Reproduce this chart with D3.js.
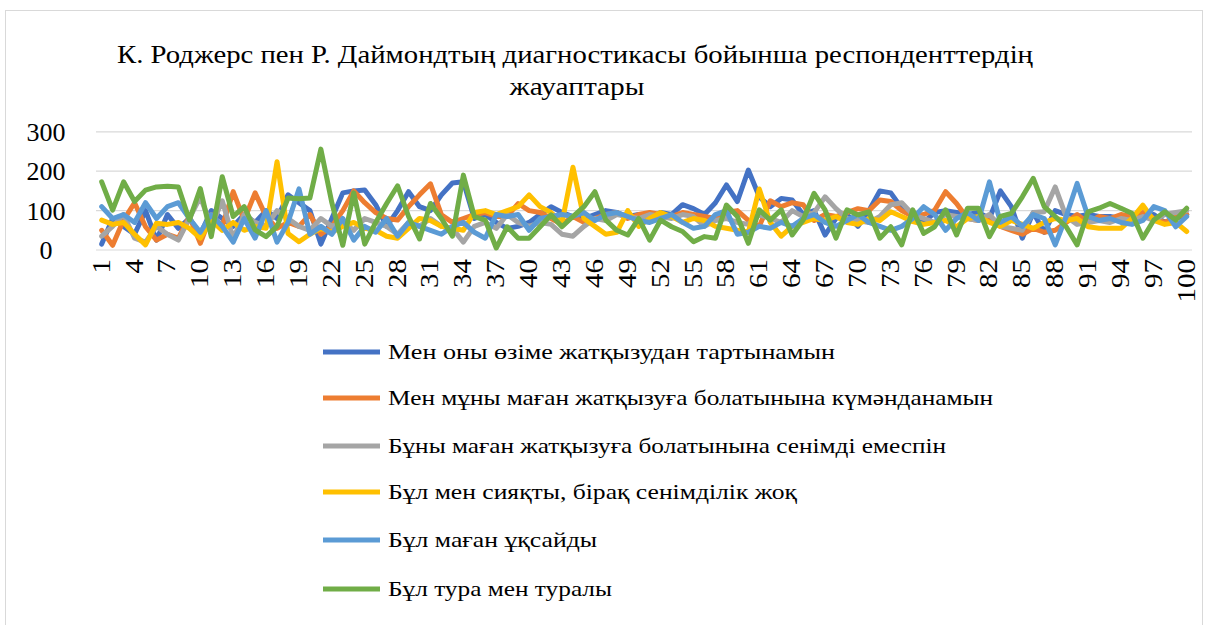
<!DOCTYPE html>
<html>
<head>
<meta charset="utf-8">
<script src="https://cdn.jsdelivr.net/npm/d3@7"></script>
<style>
  body { margin: 0; background: #fff; }
  svg text { font-family: "Liberation Serif", "DejaVu Serif", serif; fill: #000; }
</style>
</head>
<body>
<svg width="1213" height="625"></svg>
<script>
// respondents 1..100
const respondents = d3.range(1, 101);

const seriesNames = [
  "Мен оны өзіме жатқызудан тартынамын",
  "Мен мұны маған жатқызуға болатынына күмәнданамын",
  "Бұны маған жатқызуға болатынына сенімді емеспін",
  "Бұл мен сияқты, бірақ сенімділік жоқ",
  "Бұл маған ұқсайды",
  "Бұл тура мен туралы"
];
const colors = ["#4472C4", "#ED7D31", "#A5A5A5", "#FFC000", "#5B9BD5", "#70AD47"];

const yTicks = [0, 100, 200, 300];

// values
const refrain = [15,80,60,40,100,25,90,55,80,40,100,80,60,90,70,100,80,140,120,100,
  15,80,145,150,152,115,60,100,148,110,100,140,170,173,80,90,70,55,60,70,
  90,110,95,85,80,90,100,95,85,90,80,95,90,115,105,90,120,165,123,203,
  135,110,131,127,90,100,38,80,90,60,100,150,145,106,90,70,95,100,95,90,
  95,80,150,110,30,95,45,100,90,85,90,85,85,80,75,85,90,70,80,90];
const doubt = [50,12,76,120,59,25,40,30,85,17,90,60,148,76,145,85,55,70,60,90,
  40,60,100,150,120,95,80,76,110,140,168,89,70,80,90,95,85,85,118,100,
  95,80,65,85,70,80,90,95,80,90,95,90,85,95,90,85,80,95,100,75,
  60,125,110,120,115,75,90,85,95,105,100,127,123,100,85,90,101,148,118,80,
  75,85,60,50,40,55,45,50,70,90,70,85,80,90,85,95,80,70,85,90];
const notSure = [35,60,90,30,20,60,40,25,80,135,60,125,30,90,70,60,100,80,60,50,
  80,60,70,50,80,70,60,40,70,60,80,60,55,20,60,70,55,90,70,60,
  70,65,40,35,60,80,75,90,85,80,90,85,80,90,85,60,75,80,70,65,
  90,80,70,100,85,95,135,105,80,75,70,85,115,120,90,80,70,90,85,80,
  75,90,60,55,50,95,97,160,85,65,70,75,70,80,75,85,75,90,95,100];
const likeMeNoTrust = [76,65,70,40,13,68,65,70,55,30,75,50,70,50,60,55,224,42,21,40,
  55,45,60,70,55,50,35,30,55,80,75,60,55,50,95,100,90,100,110,140,
  110,95,70,210,80,60,40,45,100,60,80,95,85,70,80,75,60,55,50,45,
  155,70,35,60,70,80,75,85,70,65,80,75,97,85,72,65,70,75,59,80,
  85,70,60,75,65,55,70,80,75,80,59,55,55,55,80,114,75,65,70,47];
const likeMe = [110,80,90,70,120,80,110,120,80,45,90,60,20,80,30,100,20,70,155,40,
  60,40,80,25,60,45,80,35,70,60,50,40,60,70,45,30,90,85,90,50,
  80,85,90,85,95,75,90,95,85,75,70,80,90,70,55,60,90,100,40,45,
  60,55,70,60,80,90,70,60,75,90,70,60,50,60,80,110,90,50,80,95,
  75,173,70,85,60,90,80,13,85,169,85,75,80,70,65,75,110,100,59,85];
const exactlyMe = [173,101,173,123,152,160,162,160,76,156,34,186,85,110,51,34,60,132,130,132,
  256,120,12,145,15,70,118,163,85,28,118,80,35,190,85,76,5,59,30,30,
  59,89,59,85,110,148,76,50,38,80,25,76,59,47,21,34,30,114,85,17,
  102,76,102,38,76,144,102,30,102,89,97,30,59,13,102,42,59,102,38,106,
  106,34,85,93,135,182,110,85,59,13,97,106,118,106,93,30,76,97,76,106];

const seriesValues = [refrain, doubt, notSure, likeMeNoTrust, likeMe, exactlyMe];

const svg = d3.select("svg");

// frame
svg.append("rect")
  .attr("x", 5.5).attr("y", 10.5)
  .attr("width", 1197).attr("height", 620)
  .attr("fill", "#fff")
  .attr("stroke", "#d9d9d9");

// title
svg.append("text")
  .attr("x", 575).attr("y", 63)
  .attr("text-anchor", "middle")
  .style("font-size", "26px")
  .attr("textLength", 916).attr("lengthAdjust", "spacingAndGlyphs")
  .text("К. Роджерс пен Р. Даймондтың диагностикасы бойынша респонденттердің");
svg.append("text")
  .attr("x", 577).attr("y", 95)
  .attr("text-anchor", "middle")
  .style("font-size", "26px")
  .attr("textLength", 135).attr("lengthAdjust", "spacingAndGlyphs")
  .text("жауаптары");

const x = d3.scalePoint()
  .domain(respondents)
  .range([96.2, 1192.2])
  .padding(0.5);

const y = d3.scaleLinear()
  .domain([0, 300])
  .range([250, 131.8]);

// gridlines
svg.append("g")
  .selectAll("line")
  .data(yTicks)
  .join("line")
  .attr("x1", 96).attr("x2", 1192)
  .attr("y1", d => y(d)).attr("y2", d => y(d))
  .attr("stroke", "#d9d9d9")
  .attr("stroke-width", 1.2);

// y labels
svg.append("g")
  .selectAll("text")
  .data(yTicks)
  .join("text")
  .attr("x", 46)
  .attr("y", d => y(d) + 9)
  .attr("text-anchor", "middle")
  .style("font-size", "26px")
  .text(d => d);

// x labels, every third respondent
svg.append("g")
  .selectAll("text")
  .data(respondents.filter(d => (d - 1) % 3 === 0))
  .join("text")
  .attr("transform", d => `translate(${x(d) + 8},259) rotate(-90) scale(1,0.85)`)
  .attr("text-anchor", "end")
  .style("font-size", "29px")
  .text(d => d);

// lines
const line = d3.line()
  .x((d, i) => x(respondents[i]))
  .y(d => y(d));

svg.append("g")
  .selectAll("path")
  .data(seriesValues)
  .join("path")
  .attr("d", d => line(d))
  .attr("fill", "none")
  .attr("stroke", (d, i) => colors[i])
  .style("stroke-width", "5px")
  .attr("stroke-linejoin", "round")
  .attr("stroke-linecap", "round");

// legend
const legendY = [352, 398, 446, 492, 540, 589];
const legendW = [447, 605, 558, 409, 209, 224];
const legend = svg.append("g")
  .selectAll("g")
  .data(seriesNames)
  .join("g")
  .attr("transform", (d, i) => `translate(0,${legendY[i]})`);

legend.append("line")
  .attr("x1", 323).attr("x2", 380)
  .attr("stroke", (d, i) => colors[i])
  .style("stroke-width", "5px");

legend.append("text")
  .attr("x", 388).attr("y", 7)
  .style("font-size", "22px")
  .attr("textLength", (d, i) => legendW[i]).attr("lengthAdjust", "spacingAndGlyphs")
  .text(d => d);
</script>
</body>
</html>
